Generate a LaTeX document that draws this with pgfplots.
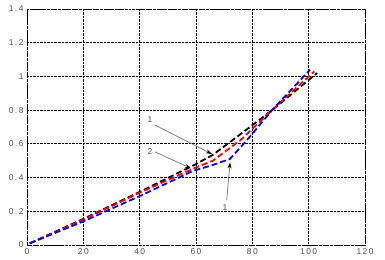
\documentclass[border=0pt]{standalone}
\usepackage{fontspec}
\setmainfont{Liberation Sans}
\usepackage{pgfplots}
\pgfplotsset{compat=1.18}
\usetikzlibrary{arrows.meta}
\begin{document}
\begin{tikzpicture}
\begin{axis}[
  scale only axis,
  width=338bp, height=236bp,
  xmin=0, xmax=120, ymin=0, ymax=1.4,
  xtick={0,20,...,120}, ytick={0,0.2,...,1.4},
  xticklabels={0,2\,0,4\,0,6\,0,8\,0,1\,0\,0,1\,2\,0},
  yticklabels={0,0\,.\,2,0\,.\,4,0\,.\,6,0\,.\,8,1,1\,.\,2,1\,.\,4},
  tick label style={font=\fontsize{8.5}{9}\selectfont, text=black!70},
  grid=major,
  major grid style={densely dotted, black, line width=0.9bp},
  axis line style={densely dotted, black, line width=0.9bp},
  tick style={draw=none},
  clip=false,
]
\addplot[black, dash pattern=on 6bp off 3bp, line width=1.8bp] coordinates {
 (1,0.01) (20,0.155) (40,0.315) (60,0.48) (66,0.535) (76,0.66) (87,0.80) (103,1.02)};
\addplot[red, dash pattern=on 6bp off 3bp, line width=1.8bp] coordinates {
 (1,0.01) (20,0.15) (40,0.31) (60,0.46) (66,0.50) (76,0.625) (87,0.80) (102,1.03)};
\addplot[blue, dash pattern=on 6bp off 3bp, line width=1.8bp] coordinates {
 (1,0.01) (20,0.14) (40,0.29) (59,0.44) (66,0.475) (72,0.51) (78,0.62) (87,0.80) (100.5,1.04)};
\node[font=\fontsize{8.5}{9}\selectfont, text=black!70] at (axis cs:43.7,0.746) {1};
\node[font=\fontsize{8.5}{9}\selectfont, text=black!70] at (axis cs:43.7,0.553) {2};
\node[font=\fontsize{8.5}{9}\selectfont, text=black!70] at (axis cs:70.3,0.22) {1};
\draw[gray, line width=0.8bp, -{Stealth[length=6bp,width=4bp,black]}] (axis cs:45.4,0.712) -- (axis cs:65.6,0.54);
\draw[gray, line width=0.8bp, -{Stealth[length=6bp,width=4bp,black]}] (axis cs:45.4,0.553) -- (axis cs:58.2,0.455);
\draw[gray, line width=0.8bp, -{Stealth[length=6bp,width=4bp,black]}] (axis cs:70.9,0.267) -- (axis cs:72.1,0.49);
\end{axis}
\pgfresetboundingbox
\path[use as bounding box] (-27bp,-15bp) rectangle (358bp,245bp);
\end{tikzpicture}
\end{document}
